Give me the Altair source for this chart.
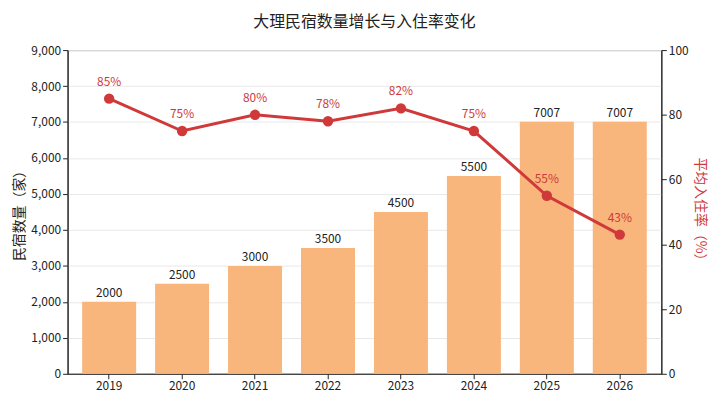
import pandas as pd
import altair as alt

years = ["2019", "2020", "2021", "2022", "2023", "2024", "2025", "2026"]
counts = [2000, 2500, 3000, 3500, 4500, 5500, 7007, 7007]
occupancy = [85, 75, 80, 78, 82, 75, 55, 43]

df = pd.DataFrame({"year": years, "count": counts, "occ": occupancy})
df["occ_label"] = df["occ"].astype(str) + "%"

font = "Noto Sans CJK SC"
x = alt.X("year:N", title=None, sort=years,
          scale=alt.Scale(paddingInner=0.26, paddingOuter=0.2),
          axis=alt.Axis(labelAngle=0, labelFontSize=12, labelColor="#222", domainColor="#222", tickColor="#222"))

base = alt.Chart(df).encode(x=x)

ycount = alt.Y("count:Q", title="民宿数量（家）", scale=alt.Scale(domain=[0, 9000]),
               axis=alt.Axis(values=list(range(0, 9001, 1000)), gridColor="#e8e8e8",
                             titleFontSize=14, titleFontWeight="normal", labelFontSize=12,
                             labelColor="#222", titleColor="#222", domainColor="#222", tickColor="#222"))
bars = base.mark_bar(color="#F8B57C").encode(y=ycount)
bar_text = base.mark_text(dy=-9, fontSize=12, color="#222", font=font).encode(y=ycount, text="count:Q")
left = alt.layer(bars, bar_text)

yocc = alt.Y("occ:Q", title="平均入住率（%）", scale=alt.Scale(domain=[0, 100]),
             axis=alt.Axis(orient="right", values=list(range(0, 101, 20)), grid=False,
                           titleFontSize=14, titleFontWeight="normal", labelFontSize=12,
                           titleColor="#D0393A", labelColor="#222", domainColor="#222", tickColor="#222"))
line = base.mark_line(color="#D0393A", strokeWidth=3, point=alt.OverlayMarkDef(color="#D0393A", size=110, filled=True)).encode(y=yocc)
line_text = base.mark_text(dy=-17, fontSize=12, color="#D0393A", font=font).encode(y=yocc, text="occ_label:N")
right = alt.layer(line, line_text)

chart = alt.layer(left, right).resolve_scale(y="independent").properties(
    width=598, height=326,
    title=alt.TitleParams("大理民宿数量增长与入住率变化", fontSize=16, fontWeight="normal", color="#222", offset=14),
).configure(font=font).configure_view(stroke="#222")

chart.save("out.html", embed_options={"renderer": "svg", "actions": False})
